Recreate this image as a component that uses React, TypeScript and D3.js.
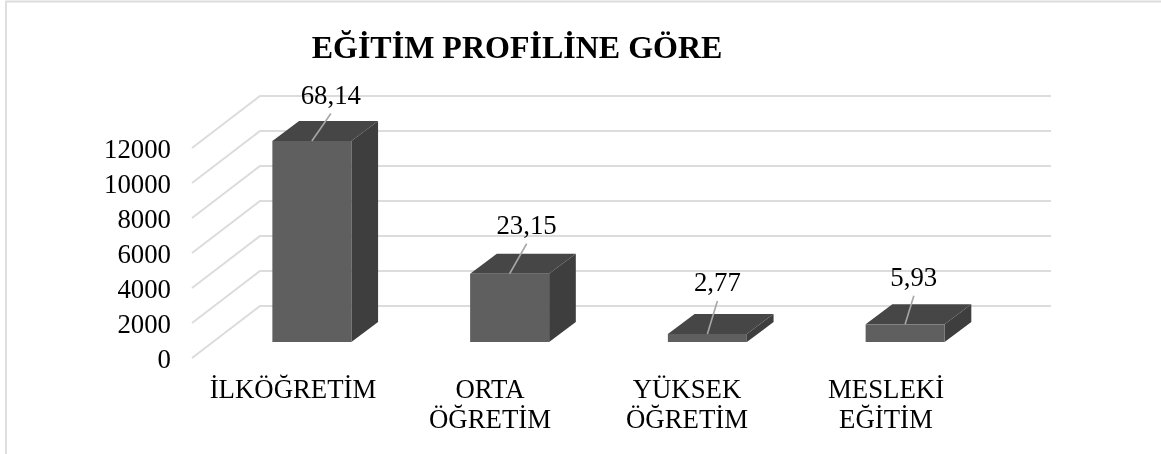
import React from "react";
import * as d3 from "d3";

const categories = [["İLKÖĞRETİM"], ["ORTA", "ÖĞRETİM"], ["YÜKSEK", "ÖĞRETİM"], ["MESLEKİ", "EĞİTİM"]];
const values = [11486, 3900, 460, 1010];
const dataLabels = ["68,14", "23,15", "2,77", "5,93"];
const ticks = [0, 2000, 4000, 6000, 8000, 10000, 12000];
const title = "EĞİTİM PROFİLİNE GÖRE";

// layout (separate from the data)
const W = 1161, H = 454;
const FRONT_L = 192, FRONT_R = 983, FLOOR_DX = 68, FLOOR_DY = 52;
const BAR_W = 79, BAR_DX = 26.7, BAR_DY = 20, BAR_SHIFT_X = 21, BAR_SHIFT_Y = 16;
const LABEL_OFFSET = [[19, -27.5], [17, -30], [10, -33], [8.7, -28.5]];
const LABEL_GAP = [9.5, 9.5, 9.5, 9.5];
const CAT_X = [293, 490, 687, 886];
const FS = 26.8;

const x = d3.scaleBand<number>().domain(d3.range(categories.length)).range([FRONT_L, FRONT_R]);
const y = d3.scaleLinear().domain([0, 12000]).range([358, 148]);
const poly = (pts: [number, number][]) => d3.line()(pts) + "Z";

export default function App() {
  const font = "'Liberation Serif', serif";
  const grid = "#dcdcdc";
  return (
    <svg width={W} height={H} viewBox={`0 0 ${W} ${H}`} style={{ position: "absolute", left: 0, top: 0, background: "#fff", filter: "blur(0.35px)" }} fontFamily={font}>
      <path d={`M6 ${H}V1.5H${W}`} fill="none" stroke={grid} strokeWidth={1.8} />
      <text x={517} y={58} textAnchor="middle" fontSize={32} fontWeight="bold" fill="#000">{title}</text>

      {ticks.map((t) => (
        <g key={t}>
          <path
            d={`M${FRONT_L} ${y(t)}L${FRONT_L + FLOOR_DX} ${y(t) - FLOOR_DY}H${FRONT_R + FLOOR_DX}`}
            fill="none" stroke={grid} strokeWidth={2}
          />
          <text x={171} y={y(t) + 10} textAnchor="end" fontSize={FS} fill="#000">{t}</text>
        </g>
      ))}

      {values.map((v, i) => {
        const l = x(i)! + x.bandwidth() / 2 - BAR_W / 2 + BAR_SHIFT_X;
        const r = l + BAR_W;
        const b = y(0) - BAR_SHIFT_Y;
        const tp = b - (y(0) - y(v));
        const cx = (l + r) / 2;
        return (
          <g key={i}>
            <path d={poly([[r, tp], [r + BAR_DX, tp - BAR_DY], [r + BAR_DX, b - BAR_DY], [r, b]])} fill="#3e3e3e" />
            <path d={poly([[l, tp], [l + BAR_DX, tp - BAR_DY], [r + BAR_DX, tp - BAR_DY], [r, tp]])} fill="#464646" />
            <rect x={l} y={tp} width={BAR_W} height={b - tp} fill="#5f5f5f" />
            <line x1={cx} y1={tp} x2={cx + LABEL_OFFSET[i][0]} y2={tp + LABEL_OFFSET[i][1]} stroke="#a6a6a6" strokeWidth={1.6} />
            <text x={cx + LABEL_OFFSET[i][0]} y={tp + LABEL_OFFSET[i][1] - LABEL_GAP[i]} textAnchor="middle" fontSize={FS} fill="#000">{dataLabels[i]}</text>
          </g>
        );
      })}

      {categories.map((lines, i) => lines.map((s, j) => (
        <text key={s + i} x={CAT_X[i]} y={398 + j * 30} textAnchor="middle" fontSize={FS} fill="#000">{s}</text>
      )))}
    </svg>
  );
}
